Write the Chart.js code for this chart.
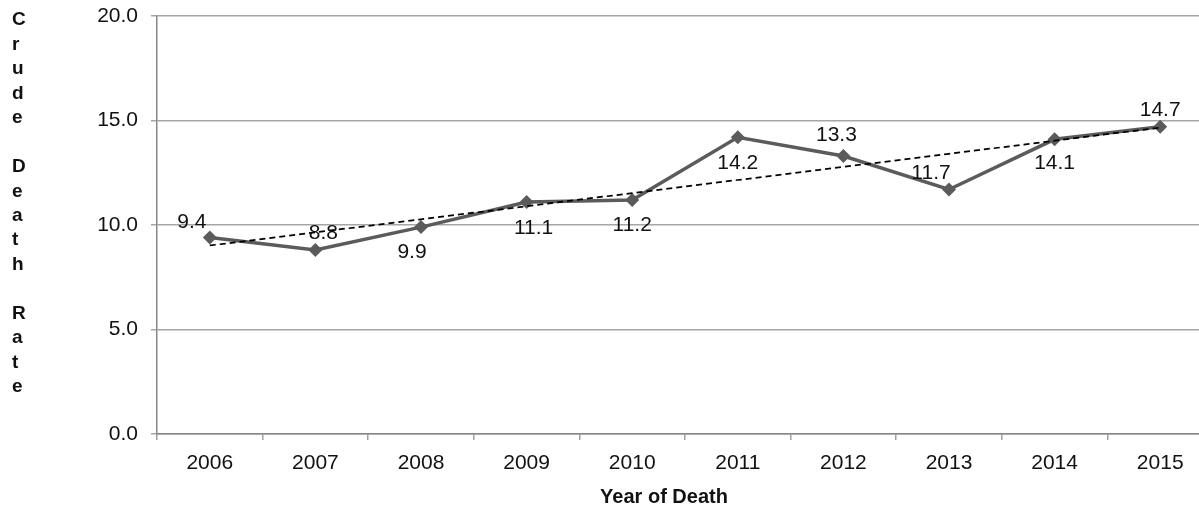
<!DOCTYPE html>
<html>
<head>
<meta charset="utf-8">
<script src="https://cdn.jsdelivr.net/npm/chart.js@4.4.1/dist/chart.umd.min.js"></script>
<style>
  html, body { margin: 0; padding: 0; background: #fff; overflow: hidden; }
  #chart { display: block; }
</style>
</head>
<body>
<canvas id="chart" width="1220" height="512"></canvas>
<script>
// Crude death rate by year of death
const years = ['2006', '2007', '2008', '2009', '2010', '2011', '2012', '2013', '2014', '2015'];
const crudeDeathRate = [9.4, 8.8, 9.9, 11.1, 11.2, 14.2, 13.3, 11.7, 14.1, 14.7];
const yTickValues = [0, 5, 10, 15, 20];
const yAxisTitle = 'Crude Death Rate';
const xAxisTitle = 'Year of Death';

// Where each value label sits relative to its point: [dx, dy]
const labelOffsets = [
  [-18, -15], [8, -17], [-9, 25], [7, 26], [0, 25],
  [0, 26], [-7, -21], [-18, -16], [0, 24], [0, -17]
];

const FONT = "'Liberation Sans', Arial, sans-serif";
const LINE_COLOR = '#5b5b5b';

// Least-squares linear trend over the series
function linearTrend(vals) {
  const n = vals.length;
  let sx = 0, sy = 0, sxy = 0, sxx = 0;
  vals.forEach((v, i) => { sx += i; sy += v; sxy += i * v; sxx += i * i; });
  const b = (n * sxy - sx * sy) / (n * sxx - sx * sx);
  const a = (sy - b * sx) / n;
  return vals.map((_, i) => a + b * i);
}

// Scales keep no extra padding; the layout padding alone sets the plot box
function noScalePadding(scale) {
  scale.paddingTop = 0;
  scale.paddingBottom = 0;
  scale.paddingLeft = 0;
  scale.paddingRight = 0;
}

const valueLabels = {
  id: 'valueLabels',
  afterDatasetsDraw(chart) {
    const meta = chart.getDatasetMeta(1);
    const ctx = chart.ctx;
    ctx.save();
    ctx.font = '21px ' + FONT;
    ctx.fillStyle = '#111';
    ctx.textAlign = 'center';
    ctx.textBaseline = 'middle';
    meta.data.forEach((pt, i) => {
      const [dx, dy] = labelOffsets[i];
      ctx.fillText(crudeDeathRate[i].toFixed(1), pt.x + dx, pt.y + dy);
    });
    ctx.restore();
  }
};

const axisTitles = {
  id: 'axisTitles',
  afterDraw(chart) {
    const ctx = chart.ctx;
    ctx.save();
    ctx.fillStyle = '#111';
    // stacked vertical title, one character per line
    ctx.font = 'bold 19px ' + FONT;
    ctx.textAlign = 'left';
    ctx.textBaseline = 'middle';
    yAxisTitle.split('').forEach((ch, i) => {
      if (ch !== ' ') ctx.fillText(ch, 12, 20 + i * 24.47);
    });
    // horizontal axis title
    ctx.font = 'bold 20px ' + FONT;
    ctx.textAlign = 'center';
    ctx.fillText(xAxisTitle, 664, 497);
    ctx.restore();
  }
};

new Chart(document.getElementById('chart'), {
  type: 'line',
  data: {
    labels: years,
    datasets: [
      {
        label: 'Linear trend',
        data: linearTrend(crudeDeathRate),
        borderColor: '#000',
        borderWidth: 1.75,
        borderDash: [6, 4],
        pointRadius: 0,
        fill: false,
        order: 0
      },
      {
        label: 'Crude Death Rate',
        data: crudeDeathRate,
        borderColor: LINE_COLOR,
        borderWidth: 3.5,
        pointStyle: 'rectRot',
        pointRadius: 7,
        pointBackgroundColor: LINE_COLOR,
        pointBorderColor: LINE_COLOR,
        pointBorderWidth: 0,
        tension: 0,
        fill: false,
        order: 1
      }
    ]
  },
  options: {
    responsive: false,
    animation: false,
    layout: { padding: { top: 16, right: 1, bottom: 0, left: 0 } },
    plugins: { legend: { display: false }, tooltip: { enabled: false } },
    scales: {
      x: {
        type: 'category',
        offset: true,
        grid: { offset: true, drawOnChartArea: false, tickLength: 6, color: '#a0a0a0', lineWidth: 1.5 },
        border: { color: '#888', width: 1.5 },
        ticks: { font: { family: FONT, size: 21 }, color: '#111', padding: 11, maxRotation: 0, autoSkip: false },
        afterFit(scale) { scale.height = 78; noScalePadding(scale); }
      },
      y: {
        min: 0,
        max: 20,
        afterBuildTicks(scale) { scale.ticks = yTickValues.map(v => ({ value: v })); },
        grid: { color: '#a6a6a6', lineWidth: 1.5, tickLength: 6 },
        border: { color: '#888', width: 1.5 },
        ticks: {
          font: { family: FONT, size: 21 },
          color: '#111',
          padding: 13,
          callback: v => Number(v).toFixed(1)
        },
        afterFit(scale) { scale.width = 157; noScalePadding(scale); }
      }
    }
  },
  plugins: [valueLabels, axisTitles]
});
</script>
</body>
</html>
